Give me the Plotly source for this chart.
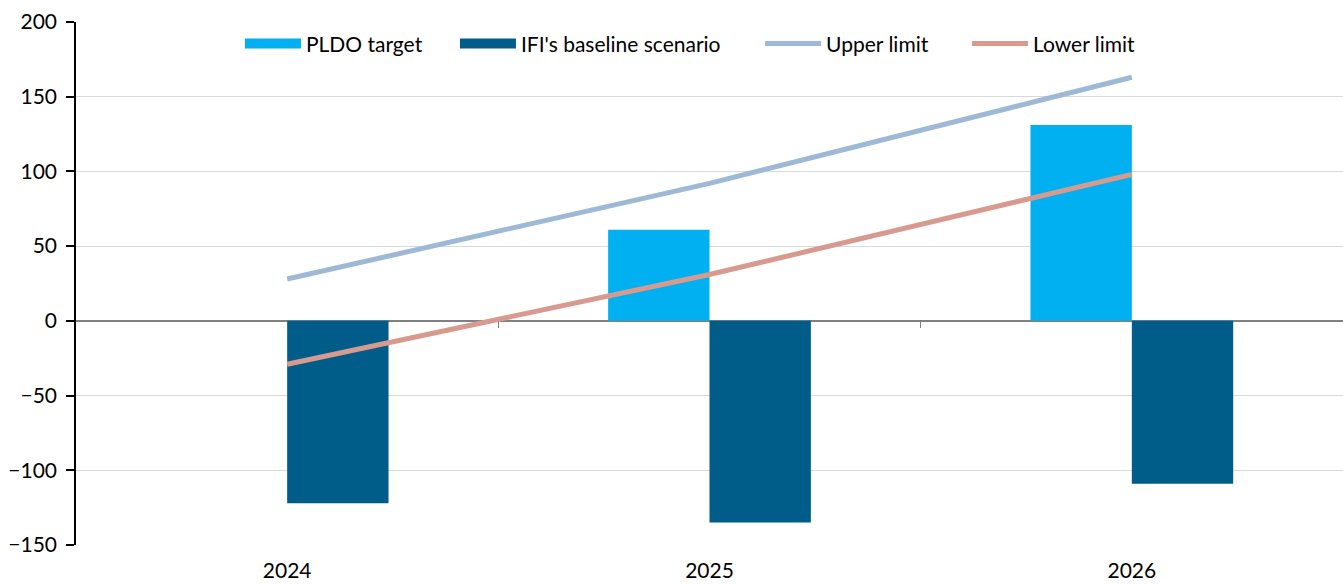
import plotly.graph_objects as go

years = ["2024", "2025", "2026"]
pldo_target = [None, 61, 131]
ifi_baseline = [-122, -135, -109]
upper_limit = [28, 92, 163]
lower_limit = [-29, 31, 98]
y_ticks = [-150, -100, -50, 0, 50, 100, 150, 200]

FONT = "Lato"
C_PLDO, C_IFI, C_UP, C_LOW = "#00B0F0", "#005C89", "#9DB9D5", "#D89A8F"

fig = go.Figure()
fig.add_trace(go.Bar(x=years, y=pldo_target, name="PLDO target", showlegend=False,
                     marker=dict(color=C_PLDO, line=dict(width=0))))
fig.add_trace(go.Bar(x=years, y=ifi_baseline, name="IFI's baseline scenario", showlegend=False,
                     marker=dict(color=C_IFI, line=dict(width=0))))
fig.add_trace(go.Scatter(x=years, y=upper_limit, name="Upper limit", mode="lines",
                         line=dict(color=C_UP, width=5), legend="legend3"))
fig.add_trace(go.Scatter(x=years, y=lower_limit, name="Lower limit", mode="lines",
                         line=dict(color=C_LOW, width=5), legend="legend4"))
# legend swatches for the bar series (wide rectangles as in the original)
fig.add_trace(go.Scatter(x=[None], y=[None], name="PLDO target", mode="lines",
                         line=dict(color=C_PLDO, width=15), legend="legend", hoverinfo="skip"))
fig.add_trace(go.Scatter(x=[None], y=[None], name="IFI's baseline scenario", mode="lines",
                         line=dict(color=C_IFI, width=15), legend="legend2", hoverinfo="skip"))

n = len(years)
leg_common = dict(orientation="h", xanchor="left", y=0.958, yanchor="middle",
                  font=dict(size=21), bgcolor="rgba(0,0,0,0)", itemwidth=56)
fig.update_layout(
    width=1343, height=586,
    margin=dict(l=76, r=0, t=22, b=41),
    paper_bgcolor="white", plot_bgcolor="white",
    barmode="group", bargap=0.52, bargroupgap=0,
    font=dict(family=FONT, size=21, color="#000000"),
    legend=dict(x=0.1294, **leg_common),
    legend2=dict(x=0.2991, **leg_common),
    legend3=dict(x=0.5399, **leg_common),
    legend4=dict(x=0.7032, **leg_common),
    xaxis=dict(type="category", categoryorder="array", categoryarray=years,
               range=[-0.5, n - 0.5], showline=False, showgrid=False,
               ticks="outside", ticklen=7, tickcolor="rgba(0,0,0,0)",
               tickfont=dict(size=21), zeroline=False),
    xaxis2=dict(overlaying="x", anchor="free", position=150 / 350, range=[-0.5, n - 0.5],
                tickvals=[i + 0.5 for i in range(n - 1)], ticks="outside", ticklen=6,
                tickcolor="#808080", tickwidth=1, showticklabels=False, showline=False,
                showgrid=False, zeroline=False),
    yaxis=dict(range=[-150, 200], tickvals=y_ticks, showgrid=True, gridcolor="#D9D9D9",
               gridwidth=1, zeroline=True, zerolinecolor="#808080", zerolinewidth=1.5,
               showline=True, linecolor="#000000", linewidth=1.5, ticks="outside",
               ticklen=8, tickcolor="#000000", tickwidth=1.5, tickfont=dict(size=21),
               ticklabelstandoff=5),
)
# invisible trace to activate xaxis2
fig.add_trace(go.Scatter(x=[0], y=[None], xaxis="x2", showlegend=False, hoverinfo="skip"))

fig.write_html("out.html")
